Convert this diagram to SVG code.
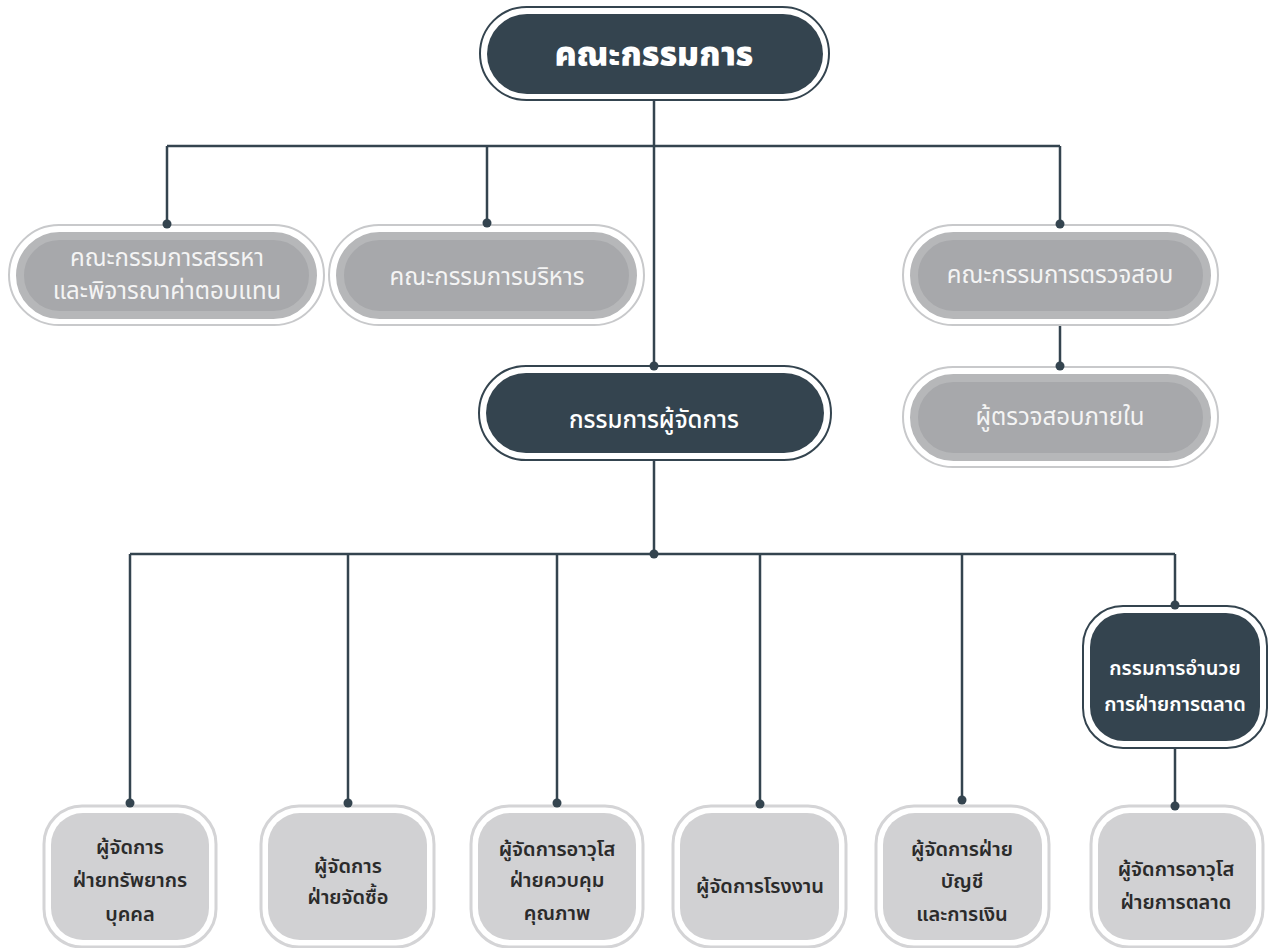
<svg xmlns="http://www.w3.org/2000/svg" width="1271" height="948" viewBox="0 0 1271 948">
<defs>
<style>
.dark-out{fill:#ffffff;stroke:#34444f;stroke-width:2}
.dark-in{fill:#34444f}
.gray-out{fill:#ffffff;stroke:#c8c9cb;stroke-width:2}
.gray-in{fill:#a7a8ab;stroke:#b6b7b9;stroke-width:8}
.light-out{fill:#ffffff;stroke:#d4d4d6;stroke-width:3}
.light-in{fill:#d1d1d3}
.conn{fill:none;stroke:#34444f;stroke-width:2.5}
.dot{fill:#34444f}
text{font-family:'Noto Sans Thai','Noto Sans',sans-serif;text-anchor:middle}
.t-top{fill:#ffffff;font-size:33px;font-weight:900}
.t-dark{fill:#ffffff;font-size:24px;font-weight:500}
.t-mk{fill:#ffffff;font-size:20px;font-weight:600}
.t-gray{fill:#f4f4f4;font-size:24px}
.t-low{fill:#2b2b2b;font-size:20px;font-weight:600}
</style>
</defs>
<rect width="1271" height="948" fill="#ffffff"/>
<g id="board">
<rect class="dark-out" x="480" y="7" width="349" height="93" rx="46.5"/>
<rect class="dark-in" x="487" y="14" width="336" height="80" rx="40"/>
<text class="t-top" x="654" y="66">คณะกรรมการ</text>
</g>
<g id="nomination">
<rect class="gray-out" x="9" y="225" width="315" height="100" rx="50"/>
<rect class="gray-in" x="20" y="236" width="293" height="79" rx="39.5"/>
<text class="t-gray" x="167" y="266">คณะกรรมการสรรหา</text>
<text class="t-gray" x="167" y="299">และพิจารณาค่าตอบแทน</text>
</g>
<g id="executive">
<rect class="gray-out" x="329" y="225" width="315" height="100" rx="50"/>
<rect class="gray-in" x="340" y="236" width="293" height="79" rx="39.5"/>
<text class="t-gray" x="487" y="285">คณะกรรมการบริหาร</text>
</g>
<g id="audit">
<rect class="gray-out" x="903" y="225" width="315" height="100" rx="50"/>
<rect class="gray-in" x="914" y="236" width="293" height="79" rx="39.5"/>
<text class="t-gray" x="1060" y="283">คณะกรรมการตรวจสอบ</text>
</g>
<g id="internal-audit">
<rect class="gray-out" x="903" y="367" width="315" height="100" rx="50"/>
<rect class="gray-in" x="914" y="378" width="293" height="79" rx="39.5"/>
<text class="t-gray" x="1060" y="425">ผู้ตรวจสอบภายใน</text>
</g>
<g id="md">
<rect class="dark-out" x="479" y="366" width="352" height="94" rx="47"/>
<rect class="dark-in" x="486" y="373" width="338" height="80" rx="40"/>
<text class="t-dark" x="654" y="428">กรรมการผู้จัดการ</text>
</g>
<g id="marketing-director">
<rect class="dark-out" x="1083" y="606" width="184" height="142" rx="40"/>
<rect class="dark-in" x="1090" y="613" width="170" height="128" rx="34"/>
<text class="t-mk" x="1175" y="675">กรรมการอำนวย</text>
<text class="t-mk" x="1175" y="711">การฝ่ายการตลาด</text>
</g>
<g id="hr">
<rect class="light-out" x="44" y="806" width="172" height="141" rx="38"/>
<rect class="light-in" x="51" y="813" width="158" height="127" rx="32"/>
<text class="t-low" x="130" y="854">ผู้จัดการ</text>
<text class="t-low" x="130" y="887">ฝ่ายทรัพยากร</text>
<text class="t-low" x="130" y="921">บุคคล</text>
</g>
<g id="purchasing">
<rect class="light-out" x="261" y="806" width="173" height="141" rx="38"/>
<rect class="light-in" x="268" y="813" width="159" height="127" rx="32"/>
<text class="t-low" x="348" y="873">ผู้จัดการ</text>
<text class="t-low" x="348" y="904">ฝ่ายจัดซื้อ</text>
</g>
<g id="qc">
<rect class="light-out" x="471" y="806" width="172" height="141" rx="38"/>
<rect class="light-in" x="478" y="813" width="158" height="127" rx="32"/>
<text class="t-low" x="557" y="856">ผู้จัดการอาวุโส</text>
<text class="t-low" x="557" y="887">ฝ่ายควบคุม</text>
<text class="t-low" x="557" y="920">คุณภาพ</text>
</g>
<g id="factory">
<rect class="light-out" x="673" y="806" width="173" height="141" rx="38"/>
<rect class="light-in" x="680" y="813" width="159" height="127" rx="32"/>
<text class="t-low" x="760" y="893">ผู้จัดการโรงงาน</text>
</g>
<g id="accounting">
<rect class="light-out" x="876" y="806" width="173" height="141" rx="38"/>
<rect class="light-in" x="883" y="813" width="159" height="127" rx="32"/>
<text class="t-low" x="962" y="856">ผู้จัดการฝ่าย</text>
<text class="t-low" x="962" y="888">บัญชี</text>
<text class="t-low" x="962" y="921">และการเงิน</text>
</g>
<g id="marketing-manager">
<rect class="light-out" x="1091" y="806" width="172" height="141" rx="38"/>
<rect class="light-in" x="1098" y="813" width="158" height="127" rx="32"/>
<text class="t-low" x="1176" y="876">ผู้จัดการอาวุโส</text>
<text class="t-low" x="1176" y="909">ฝ่ายการตลาด</text>
</g>
<g id="connectors">
<path class="conn" d="M654,101 V366 M167,146 H1060 M167,146 V225 M487,146 V224 M1060,146 V225 M1060,326 V366 M654,460 V554 M130,554 H1175 M130,554 V803 M348,554 V803 M557,554 V803 M760,554 V805 M962,554 V800 M1175,554 V605 M1175,749 V806"/>
<circle class="dot" cx="167" cy="224" r="4.5"/>
<circle class="dot" cx="487" cy="223" r="4.5"/>
<circle class="dot" cx="1060" cy="224" r="4.5"/>
<circle class="dot" cx="654" cy="366" r="4.5"/>
<circle class="dot" cx="1060" cy="366" r="4.5"/>
<circle class="dot" cx="654" cy="554" r="4.5"/>
<circle class="dot" cx="130" cy="803" r="4.5"/>
<circle class="dot" cx="348" cy="803" r="4.5"/>
<circle class="dot" cx="557" cy="803" r="4.5"/>
<circle class="dot" cx="760" cy="804" r="4.5"/>
<circle class="dot" cx="962" cy="800" r="4.5"/>
<circle class="dot" cx="1175" cy="605" r="4.5"/>
<circle class="dot" cx="1175" cy="806" r="4.5"/>
</g>
</svg>
